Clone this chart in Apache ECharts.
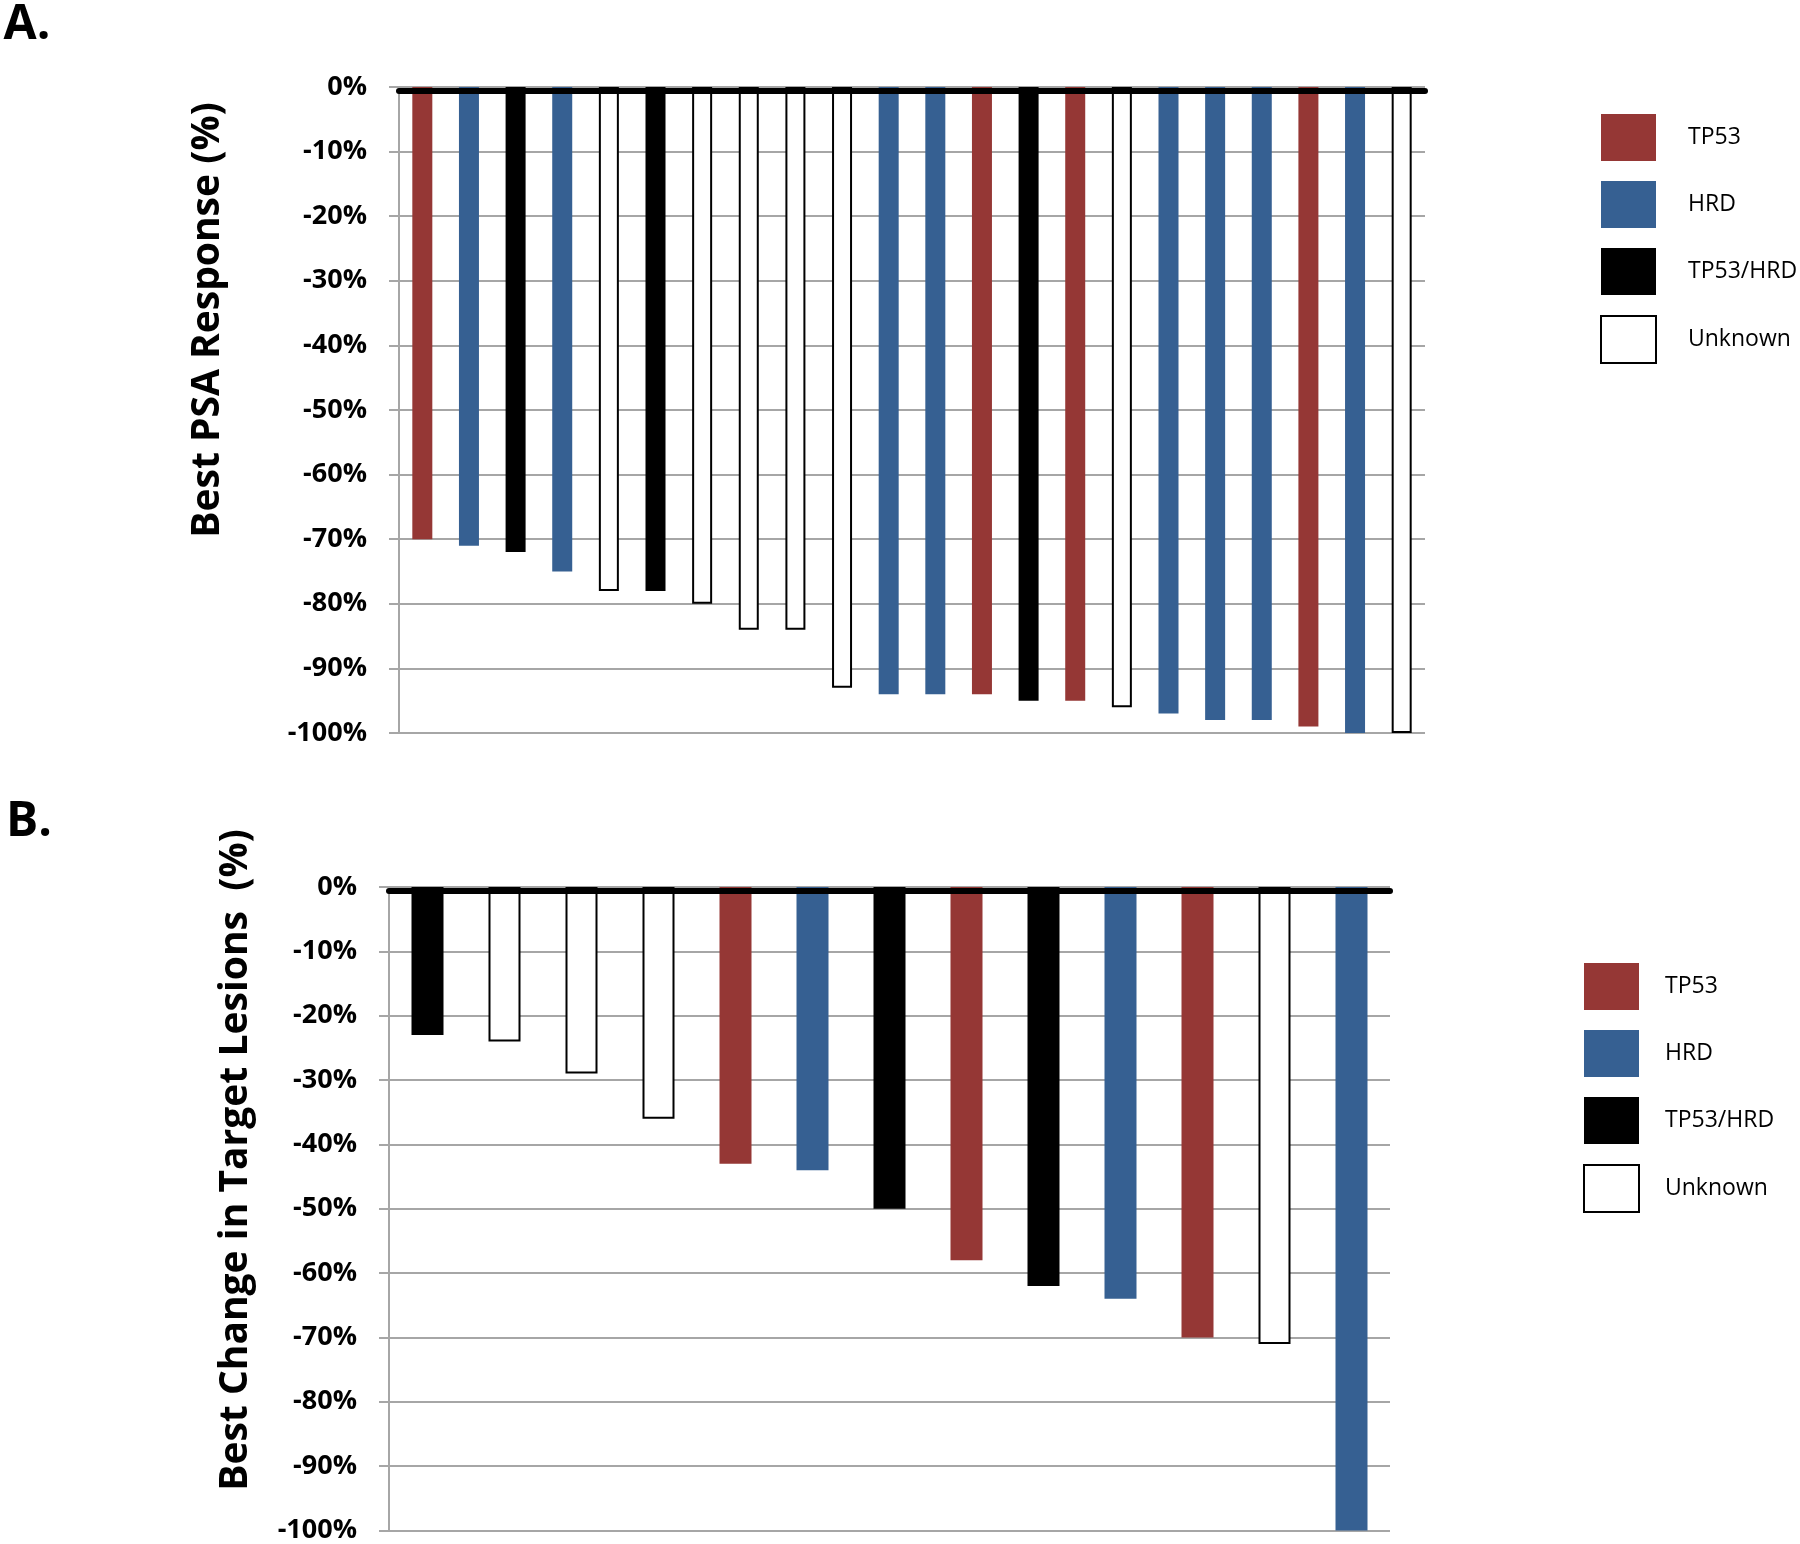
<!DOCTYPE html>
<html>
<head>
<meta charset="utf-8">
<script src="https://cdn.jsdelivr.net/npm/echarts@6/dist/echarts.min.js"></script>
<style>
  html, body { margin: 0; padding: 0; background: #fff; }
  #chart { width: 1800px; height: 1544px; }
</style>
</head>
<body>
<div id="chart"></div>
<script>
// ---- Data ----
const groupNames = ['TP53', 'HRD', 'TP53/HRD', 'Unknown'];

const patientsA = ['1','2','3','4','5','6','7','8','9','10','11','12','13','14','15','16','17','18','19','20','21','22'];
const groupsA = ['TP53','HRD','TP53/HRD','HRD','Unknown','TP53/HRD','Unknown','Unknown','Unknown','Unknown','HRD','HRD','TP53','TP53/HRD','TP53','Unknown','HRD','HRD','HRD','TP53','HRD','Unknown'];
const psaResponse = [-70,-71,-72,-75,-78,-78,-80,-84,-84,-93,-94,-94,-94,-95,-95,-96,-97,-98,-98,-99,-100,-100];

const patientsB = ['1','2','3','4','5','6','7','8','9','10','11','12','13'];
const groupsB = ['TP53/HRD','Unknown','Unknown','Unknown','TP53','HRD','TP53/HRD','TP53','TP53/HRD','HRD','TP53','Unknown','HRD'];
const lesionChange = [-23,-24,-29,-36,-43,-44,-50,-58,-62,-64,-70,-71,-100];

const yMin = -100, yMax = 0, yStep = 10;

// ---- Styles ----
const groupStyle = {
  'TP53':     { color: '#953735' },
  'HRD':      { color: '#366092' },
  'TP53/HRD': { color: '#000000' },
  'Unknown':  { color: '#ffffff', borderColor: '#000000', borderWidth: 2 }
};
const gridGray = '#a6a6a6';
const tickFont = { fontFamily: 'Open Sans', fontWeight: 'bold', fontSize: 27, color: '#000' };

function makeSeries(groups, values, idx, barWidth) {
  return groupNames.map(g => ({
    name: g,
    type: 'bar',
    xAxisIndex: idx,
    yAxisIndex: idx,
    barWidth: barWidth,
    barGap: '-100%',
    itemStyle: groupStyle[g],
    emphasis: { disabled: true },
    data: values.map((v, i) => groups[i] === g ? v : null)
  }));
}

function xAxisDef(idx, cats) {
  return {
    type: 'category', gridIndex: idx, data: cats, position: 'top', offset: -4, z: 10,
    axisLine: { show: true, lineStyle: { color: '#000', width: 6 } },
    axisTick: { show: false }, axisLabel: { show: false }, splitLine: { show: false }
  };
}
function yAxisDef(idx) {
  return {
    type: 'value', gridIndex: idx, min: yMin, max: yMax, interval: yStep,
    axisLine: { show: true, lineStyle: { color: gridGray, width: 2 } },
    axisTick: { show: true, length: 10, lineStyle: { color: gridGray, width: 2 } },
    splitLine: { show: true, lineStyle: { color: gridGray, width: 2 } },
    axisLabel: Object.assign({ margin: 32, formatter: v => v + '%' }, tickFont)
  };
}
function legendDef(left, top, pad) {
  return {
    orient: 'vertical', left: left, top: top, padding: 0, data: groupNames,
    icon: 'rect', itemWidth: 55, itemHeight: 47, itemGap: 20, selectedMode: false,
    textStyle: { fontFamily: 'Open Sans', fontSize: 23, color: '#000', padding: [0, 0, 0, pad] }
  };
}
function label(text, x, y, size, rot) {
  return {
    type: 'text', x: x, y: y, rotation: rot || 0,
    style: { text: text, fontFamily: 'Open Sans', fontWeight: 'bold', fontSize: size, fill: '#000',
             align: 'center', verticalAlign: 'middle' }
  };
}

const chart = echarts.init(document.getElementById('chart'), null, { renderer: 'canvas' });
chart.setOption({
  animation: false,
  backgroundColor: '#fff',
  grid: [
    { left: 399, top: 87, width: 1026, height: 646 },
    { left: 389, top: 887, width: 1001, height: 646 }
  ],
  xAxis: [xAxisDef(0, patientsA), xAxisDef(1, patientsB)],
  yAxis: [yAxisDef(0), yAxisDef(1)],
  legend: [legendDef(1600, 114, 27), legendDef(1583, 963, 21)],
  graphic: [
    label('A.', 27, 25, 48),
    label('B.', 29, 822, 48),
    label('Best PSA Response (%)', 208, 320, 39, Math.PI / 2),
    label('Best Change in Target Lesions  (%)', 236, 1160, 39, Math.PI / 2)
  ],
  series: [].concat(makeSeries(groupsA, psaResponse, 0, 20), makeSeries(groupsB, lesionChange, 1, 32))
});
</script>
</body>
</html>
